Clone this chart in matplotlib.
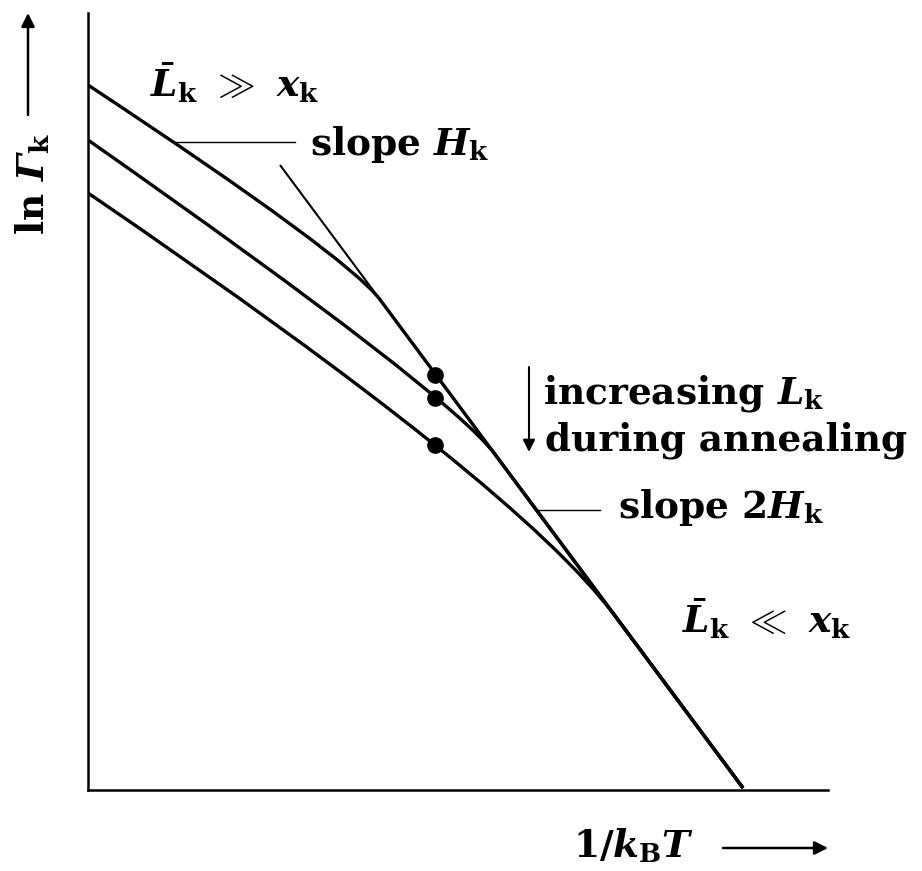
import matplotlib
matplotlib.use("Agg")
import matplotlib.pyplot as plt
from matplotlib.path import Path
from matplotlib.patches import PathPatch

# Bold serif everywhere, math letters in bold italic
plt.rcParams['font.family'] = 'DejaVu Serif'
plt.rcParams['font.weight'] = 'bold'
plt.rcParams['mathtext.fontset'] = 'custom'
plt.rcParams['mathtext.rm'] = 'DejaVu Serif:bold'
plt.rcParams['mathtext.bf'] = 'DejaVu Serif:bold'
plt.rcParams['mathtext.it'] = 'DejaVu Serif:bold:italic'
plt.rcParams['mathtext.bfit'] = 'DejaVu Serif:bold:italic'

# Schematic ln(Gamma_k) vs 1/(k_B T), arbitrary units
# asymptote of slope 2H_k (L_k << x_k)
asym_x = [192, 655]
asym_y = [625, 2]

# each curve: start (slope H_k), bend control, point where it joins the asymptote, end on axis
curve_x = [
    [0, 260, 292, 655],
    [0, 361.6, 407, 655],
    [0, 430.5, 527, 655],
]
curve_y = [
    [705, 533.3, 490.4, 2],
    [650, 396.8, 335.7, 2],
    [597, 304.1, 174.2, 2],
]

# states at one annealing temperature
dot_x = [347, 347, 347]
dot_y = [415, 392, 345]

fig = plt.figure(figsize=(9.22, 8.71), dpi=100)
ax = fig.add_axes([88 / 922, 81 / 871, 740 / 922, 777 / 871])
ax.set_xlim(0, 740)
ax.set_ylim(0, 777)

for s in ['top', 'right']:
    ax.spines[s].set_visible(False)
for s in ['left', 'bottom']:
    ax.spines[s].set_linewidth(1.8)
ax.set_xticks([])
ax.set_yticks([])

ax.plot(asym_x, asym_y, color='black', lw=1.5, solid_capstyle='butt')

codes = [Path.MOVETO, Path.CURVE3, Path.CURVE3, Path.LINETO]
for xs, ys in zip(curve_x, curve_y):
    path = Path(list(zip(xs, ys)), codes)
    ax.add_patch(PathPatch(path, facecolor='none', edgecolor='black', lw=2.4,
                           capstyle='butt'))

ax.plot(dot_x, dot_y, 'o', color='black', markersize=11, zorder=5)

fs = 27
# labels for the two limits
ax.text(62, 693, r'$\bar{L}_{\mathrm{k}}\ \gg\ x_{\mathrm{k}}$', fontsize=fs,
        va='baseline', ha='left')
ax.text(594, 157, r'$\bar{L}_{\mathrm{k}}\ \ll\ x_{\mathrm{k}}$', fontsize=fs,
        va='baseline', ha='left', clip_on=False)

# slope leaders
ax.plot([86, 207], [648, 648], color='black', lw=1.0)
ax.text(222, 635, r'slope $H_{\mathrm{k}}$', fontsize=fs, va='baseline', ha='left')
ax.plot([449, 512], [280, 280], color='black', lw=1.0)
ax.text(530, 272, r'slope $2H_{\mathrm{k}}$', fontsize=fs, va='baseline', ha='left',
        clip_on=False)

# annealing direction
ax.annotate('', xy=(441, 338), xytext=(441, 423),
            arrowprops=dict(arrowstyle='-|>', color='black', lw=1.5,
                            mutation_scale=18, shrinkA=0, shrinkB=0))
ax.text(455, 387, r'increasing $L_{\mathrm{k}}$', fontsize=fs, va='baseline', ha='left',
        clip_on=False)
ax.text(457, 340, 'during annealing', fontsize=fs, va='baseline', ha='left',
        clip_on=False)

# axis labels with arrows
ax.text(485, -67, r'$1/k_{\mathrm{B}}T$', fontsize=fs, va='baseline', ha='left',
        clip_on=False)
ax.annotate('', xy=(740, -58), xytext=(635, -58), annotation_clip=False,
            arrowprops=dict(arrowstyle='-|>', color='black', lw=1.8,
                            mutation_scale=20, shrinkA=0, shrinkB=0))
ax.text(-55, 606, r'$\ln\,\mathbfit{\Gamma}_{\mathrm{k}}$', fontsize=fs, rotation=90,
        va='center', ha='center', clip_on=False)
ax.annotate('', xy=(-60, 777), xytext=(-60, 675), annotation_clip=False,
            arrowprops=dict(arrowstyle='-|>', color='black', lw=1.8,
                            mutation_scale=20, shrinkA=0, shrinkB=0))

fig.savefig('out.png', dpi=100)
